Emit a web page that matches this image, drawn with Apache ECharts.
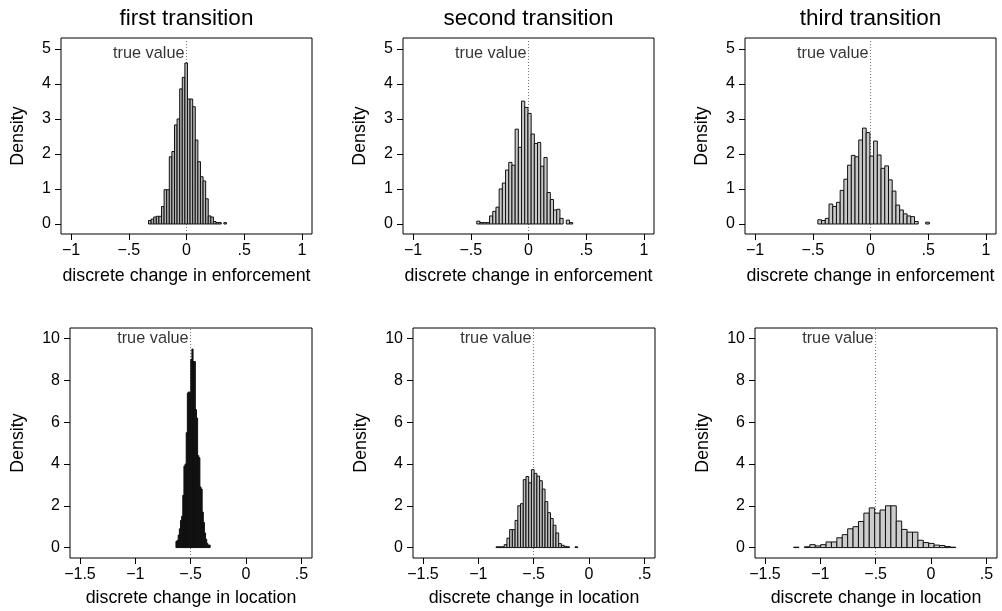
<!DOCTYPE html>
<html>
<head>
<meta charset="utf-8">
<script src="https://cdn.jsdelivr.net/npm/echarts@6/dist/echarts.min.js"></script>
<style>
html,body{margin:0;padding:0;background:#fff;}
#chart{width:1002px;height:611px;}
</style>
</head>
<body>
<div id="chart"></div>
<script>
// ---------------- DATA ----------------
const panelTitles = ['first transition', 'second transition', 'third transition'];
const rowXTitles = ['discrete change in enforcement', 'discrete change in location'];
const yTitle = 'Density';
const trueLabel = 'true value';
const rowTrueValues = [0, -0.5];
const rowTrueLabelY = [4.87, 10];
const topXTicks = [-1, -0.5, 0, 0.5, 1];
const bottomXTicks = [-1.5, -1, -0.5, 0, 0.5];
const topYTicks = [0, 1, 2, 3, 4, 5];
const bottomYTicks = [0, 2, 4, 6, 8, 10];

// histogram bins: first bin edge, bin width, densities (30 bins each)
const binStart = [-0.329, -0.448, -0.456, -0.633, -0.84, -1.241];
const binWidth = [0.0225, 0.0277, 0.0322, 0.0103, 0.0246, 0.0488];

const densEnf1 = [0.10, 0.14, 0.20, 0.22, 0.22, 0.50, 0.98, 0.98, 1.92, 2.07, 2.83, 3.00, 3.86, 4.19, 4.60,
                  3.57, 3.57, 3.35, 2.40, 1.78, 1.35, 1.23, 0.72, 0.23, 0.20, 0.07, 0.04, 0.04, 0, 0.04];
const densEnf2 = [0.08, 0.04, 0.04, 0.04, 0.23, 0.36, 0.48, 1.00, 1.17, 1.54, 1.76, 1.68, 2.71, 2.19, 3.51,
                  3.33, 3.16, 2.57, 2.30, 2.33, 1.65, 1.90, 0.90, 0.70, 0.40, 0.42, 0.16, 0, 0.11, 0.04];
const densEnf3 = [0.12, 0.10, 0.16, 0.57, 0.50, 0.62, 0.96, 1.28, 1.68, 1.96, 1.92, 2.40, 2.74, 2.61, 1.94,
                  2.37, 1.97, 1.59, 1.66, 1.26, 0.94, 0.54, 0.40, 0.29, 0.23, 0.21, 0.07, 0, 0, 0.05];
const densLoc1 = [0.30, 0.35, 0.60, 0.90, 1.30, 1.50, 2.50, 3.90, 4.00, 5.50, 7.40, 7.45, 7.40, 9.00, 9.50,
                  8.90, 8.90, 6.60, 6.20, 4.40, 4.30, 2.90, 2.80, 1.70, 1.20, 0.70, 0.40, 0.20, 0.12, 0.12];
const densLoc2 = [0.04, 0.04, 0.04, 0.14, 0.45, 0.86, 0.86, 1.30, 2.00, 2.10, 3.25, 3.40, 3.10, 3.73, 3.55,
                  3.42, 3.20, 2.80, 2.20, 1.67, 1.39, 1.07, 0.70, 0.19, 0.11, 0.06, 0.04, 0, 0, 0.04];
const densLoc3 = [0.02, 0, 0.04, 0.14, 0.08, 0.14, 0.27, 0.27, 0.47, 0.62, 0.90, 1.00, 1.25, 1.65, 1.90,
                  1.65, 1.80, 2.00, 2.00, 1.27, 0.87, 0.74, 0.74, 0.35, 0.24, 0.20, 0.12, 0.10, 0.05, 0.02];
const densities = [densEnf1, densEnf2, densEnf3, densLoc1, densLoc2, densLoc3];

// ---------------- LAYOUT / STYLE ----------------
const FONT = '"Liberation Sans", Arial, Helvetica, sans-serif';
const barFills = ['#b4b4b4', '#c8c8c8', '#c8c8c8', '#0a0a0a', '#c0c0c0', '#cccccc'];
const rowLayout = [
  {lefts: [61, 403, 745], top: 38, width: 251, height: 196,
   xMin: -1.087, xMax: 1.087, yMin: -0.286, yMax: 5.314, yNameGap: 34, xNameGap: 33},
  {lefts: [70, 413, 755], top: 328, width: 242, height: 230,
   xMin: -1.59, xMax: 0.596, yMin: -0.498, yMax: 10.507, yNameGap: 43, xNameGap: 31}
];

function stataFmt(v) {
  if (Math.abs(v) < 1e-9) return '0';
  let s = String(Math.abs(+v.toFixed(4))).replace(/^0\./, '.');
  return (v < 0 ? '\u2212' : '') + s;
}

const grids = [], xAxes = [], yAxes = [], series = [];
for (let r = 0; r < 2; r++) {
  const L = rowLayout[r];
  const xt = r === 0 ? topXTicks : bottomXTicks;
  const yt = r === 0 ? topYTicks : bottomYTicks;
  for (let c = 0; c < 3; c++) {
    const i = r * 3 + c;
    grids.push({left: L.lefts[c], top: L.top, width: L.width, height: L.height,
      show: true, borderColor: '#000', borderWidth: 1, backgroundColor: 'transparent', containLabel: false});
    xAxes.push({
      type: 'value', gridIndex: i, min: L.xMin, max: L.xMax,
      name: rowXTitles[r], nameLocation: 'middle', nameGap: L.xNameGap,
      nameTextStyle: {fontSize: 17.8, color: '#000', fontFamily: FONT},
      axisLine: {show: false, onZero: false},
      axisTick: {show: true, length: 6, customValues: xt, lineStyle: {color: '#000', width: 1}},
      axisLabel: {customValues: xt, formatter: stataFmt, fontSize: 16, color: '#000', margin: 9, fontFamily: FONT},
      splitLine: {show: false}
    });
    yAxes.push({
      type: 'value', gridIndex: i, min: L.yMin, max: L.yMax,
      name: yTitle, nameLocation: 'middle', nameGap: L.yNameGap, nameRotate: 90,
      nameTextStyle: {fontSize: 17.8, color: '#000', fontFamily: FONT},
      axisLine: {show: false, onZero: false},
      axisTick: {show: true, length: 6, customValues: yt, lineStyle: {color: '#000', width: 1}},
      axisLabel: {customValues: yt, formatter: stataFmt, fontSize: 16, color: '#000', margin: 10, fontFamily: FONT},
      splitLine: {show: false}
    });
    const dens = densities[i];
    const data = dens.map((h, k) => [binStart[i] + k * binWidth[i], binStart[i] + (k + 1) * binWidth[i], h]);
    const fill = barFills[i];
    // reference line and label (drawn underneath the bars)
    series.push({
      type: 'scatter', xAxisIndex: i, yAxisIndex: i, symbolSize: 0, silent: true, z: 1,
      data: [[rowTrueValues[r], rowTrueLabelY[r]]],
      label: {show: true, position: 'left', distance: 2, formatter: trueLabel,
              fontSize: 16.3, color: '#000', fontFamily: FONT},
      markLine: {silent: true, symbol: 'none', animation: false, z: 1,
        data: [{xAxis: rowTrueValues[r]}],
        lineStyle: {type: [1, 2], color: '#777', width: 1}, label: {show: false}}
    });
    series.push({
      type: 'custom', xAxisIndex: i, yAxisIndex: i, data: data, z: 4,
      encode: {x: [0, 1], y: 2}, silent: true,
      renderItem: function (params, api) {
        const h = api.value(2);
        if (!(h > 0)) return null;
        const a = api.coord([api.value(0), h]);
        const b = api.coord([api.value(1), 0]);
        return {type: 'rect', shape: {x: a[0], y: a[1], width: b[0] - a[0], height: b[1] - a[1]},
                style: {fill: fill, stroke: '#111', lineWidth: 1}};
      }
    });
  }
}

const titles = panelTitles.map((t, c) => ({
  text: t, left: rowLayout[0].lefts[c] + rowLayout[0].width / 2, top: 7, textAlign: 'center', padding: 0,
  textStyle: {fontSize: 22.5, fontWeight: 'normal', color: '#000', fontFamily: FONT}
}));

const chart = echarts.init(document.getElementById('chart'), null, {renderer: 'canvas'});
chart.setOption({
  animation: false,
  backgroundColor: '#fff',
  title: titles,
  grid: grids,
  xAxis: xAxes,
  yAxis: yAxes,
  series: series
});
</script>
</body>
</html>
